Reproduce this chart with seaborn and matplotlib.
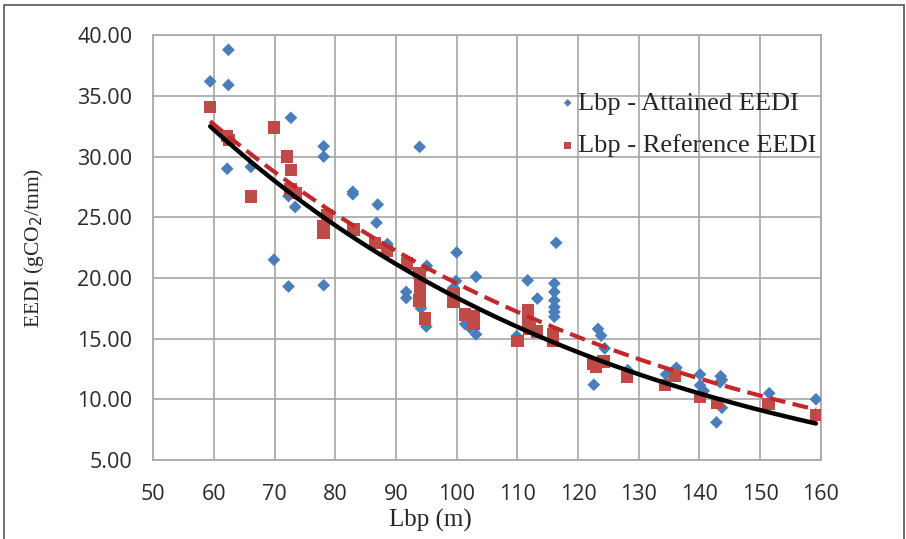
import numpy as np
import pandas as pd
import matplotlib
matplotlib.use('Agg')
import matplotlib.pyplot as plt
import seaborn as sns

#%% data
att_lbp = [59.4, 62.4, 62.4, 62.2, 66.1, 72.7, 72.3, 73.4, 69.9, 72.3,
           78.1, 78.1, 78.1, 82.9, 82.9, 87.0, 86.8, 88.6, 93.9, 95.1,
           91.7, 91.7, 94.1, 95.0, 100.0, 99.9, 99.5, 101.4, 102.2, 103.2,
           103.2, 109.9, 111.7, 113.3, 116.4, 116.1, 116.1, 116.1, 116.1, 116.1,
           116.1, 123.3, 123.8, 124.4, 122.6, 128.2, 134.5, 136.2, 140.1, 140.1,
           140.7, 143.5, 143.7, 143.4, 143.7, 142.8, 151.5, 159.2]
att_eedi = [36.2, 38.8, 35.9, 29.0, 29.15, 33.2, 26.75, 25.85, 21.5, 19.3,
            30.85, 30.0, 19.4, 27.1, 26.9, 26.05, 24.55, 22.8, 30.8, 21.0,
            18.85, 18.35, 17.5, 16.0, 22.1, 19.75, 19.2, 16.2, 15.9, 15.35,
            20.1, 15.2, 19.8, 18.3, 22.9, 19.55, 18.85, 18.15, 17.6, 17.2,
            16.8, 15.8, 15.25, 14.2, 11.2, 12.4, 12.05, 12.6, 12.05, 11.15,
            10.7, 11.9, 11.6, 11.4, 9.3, 8.1, 10.5, 10.0]

ref_lbp = [59.4, 62.2, 62.5, 66.1, 69.9, 72.1, 72.7, 72.6, 73.5, 78.1,
           78.1, 78.6, 83.0, 86.6, 88.5, 91.8, 93.9, 94.0, 94.0, 93.9,
           94.8, 99.5, 99.5, 101.4, 102.8, 102.8, 110.0, 111.8, 111.8, 112.0,
           113.2, 115.9, 115.9, 122.5, 123.0, 124.2, 128.1, 134.3, 136.0, 140.1,
           142.9, 151.4, 159.2]
ref_eedi = [34.1, 31.7, 31.35, 26.7, 32.4, 30.0, 28.9, 27.3, 27.0, 24.3,
            23.7, 25.2, 24.0, 22.9, 22.2, 21.2, 20.4, 19.55, 18.6, 18.15,
            16.65, 18.7, 18.0, 17.0, 16.85, 16.2, 14.8, 17.35, 16.5, 15.85,
            15.6, 15.4, 14.85, 12.9, 12.7, 13.1, 11.85, 11.2, 11.9, 10.2,
            9.7, 9.6, 8.7]

att = pd.DataFrame({'lbp': att_lbp, 'eedi': att_eedi})
ref = pd.DataFrame({'lbp': ref_lbp, 'eedi': ref_eedi})

# exponential trend lines (like Excel), fitted on log values
def exp_trend(df):
    b, lna = np.polyfit(df.lbp, np.log(df.eedi), 1)
    xs = np.linspace(df.lbp.min(), df.lbp.max(), 120)
    return pd.DataFrame({'lbp': xs, 'eedi': np.exp(lna + b*xs)})

att_fit = exp_trend(att)
ref_fit = exp_trend(ref)

#%% figure
sns.set_style('white')
plt.rcParams['font.family'] = ['Open Sans', 'DejaVu Sans']

fig = plt.figure(figsize=(9.06, 5.39), dpi=100)
ax = fig.add_axes([0.169, 0.1466, 0.737, 0.788])

blue = '#4a7ebb'
red = '#be4b48'

sns.scatterplot(data=att, x='lbp', y='eedi', ax=ax, marker='D', s=42, color=blue,
                edgecolor='none', label='Lbp - Attained EEDI', zorder=3)
sns.scatterplot(data=ref, x='lbp', y='eedi', ax=ax, marker='s', s=80, color=red,
                edgecolor='none', label='Lbp - Reference EEDI', zorder=3)
sns.lineplot(data=ref_fit, x='lbp', y='eedi', ax=ax, color='black', lw=3.2,
             legend=False, zorder=4)
sns.lineplot(data=att_fit, x='lbp', y='eedi', ax=ax, color='#c0282a', lw=3,
             legend=False, zorder=4)
ax.lines[-1].set_dashes([3.8, 1.8])

ax.set_xlim(50, 160)
ax.set_ylim(5, 40)
ax.set_xticks(np.arange(50, 161, 10))
ax.set_yticks(np.arange(5, 41, 5))
ax.set_yticklabels(['%.2f' % v for v in np.arange(5, 41, 5)])
ax.grid(True, color='#a6a6a6', lw=1.2)
ax.set_axisbelow(True)
for s in ax.spines.values():
    s.set_color('#a6a6a6')
    s.set_linewidth(1.2)
ax.tick_params(axis='both', length=6, width=1.2, color='#a6a6a6',
               labelsize=15.5, labelcolor='#2a2a2a')
ax.tick_params(axis='y', pad=9)
ax.tick_params(axis='x', pad=11)

ax.set_xlabel('Lbp (m)', family='Liberation Serif', fontsize=18)
ax.set_ylabel('EEDI (gCO$_2$/tnm)', family='Liberation Serif', fontsize=15.5)
ax.xaxis.set_label_coords(0.415, -0.115)
ax.yaxis.set_label_coords(-0.16, 0.5)

leg = ax.legend(loc='upper left', bbox_to_anchor=(0.61, 0.868), frameon=False,
                prop={'family': 'Liberation Serif', 'size': 19},
                borderaxespad=0, borderpad=0, handletextpad=0.1,
                labelspacing=0.72, markerscale=0.6, handlelength=0.55)

# outer frame like the pasted chart
fig.patches.append(plt.Rectangle((0.004, -0.02), 0.994, 1.01, transform=fig.transFigure,
                                 fill=False, edgecolor='#555555', lw=1.2))

fig.savefig('out.png', dpi=100, facecolor='w')
